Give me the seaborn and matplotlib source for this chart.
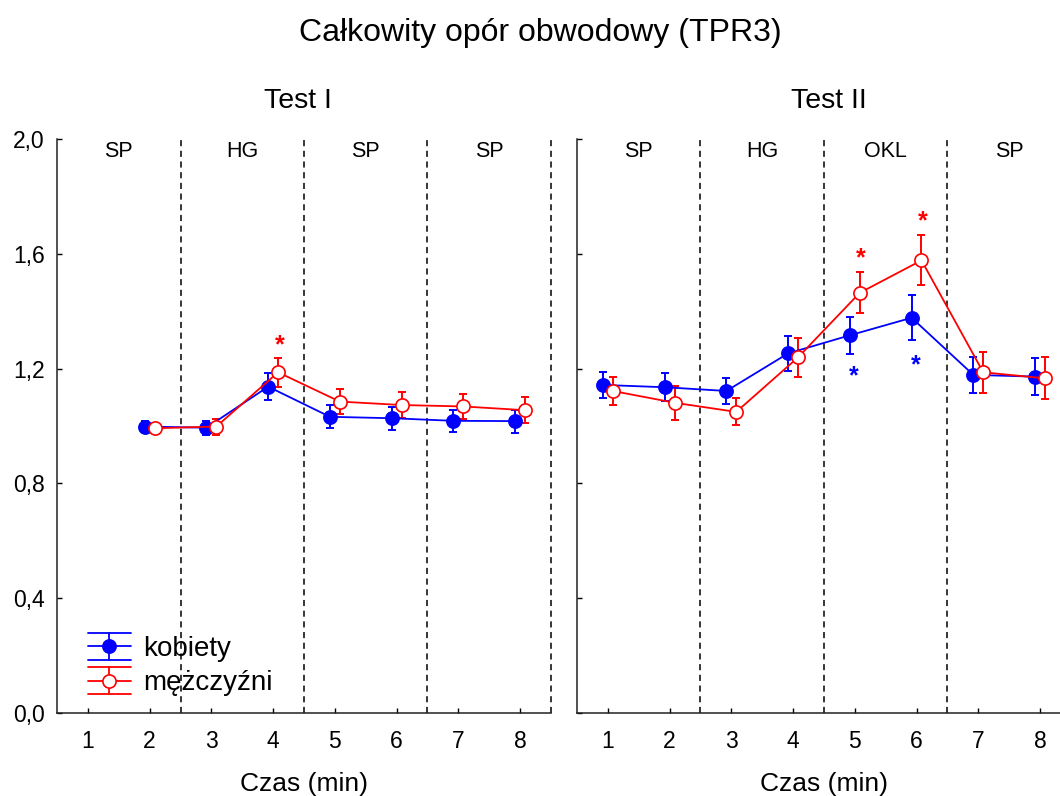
import numpy as np
import pandas as pd
import matplotlib
matplotlib.use("Agg")
import matplotlib.pyplot as plt
from matplotlib.legend_handler import HandlerBase
from matplotlib.lines import Line2D
import seaborn as sns

# ---- data -------------------------------------------------------------
time_t1 = [2, 3, 4, 5, 6, 7, 8]
kob_t1 = [0.998, 0.994, 1.137, 1.032, 1.027, 1.018, 1.017]
kob_t1_err = [0.020, 0.024, 0.046, 0.040, 0.040, 0.038, 0.040]
mez_t1 = [0.992, 0.998, 1.187, 1.085, 1.073, 1.068, 1.055]
mez_t1_err = [0.012, 0.028, 0.051, 0.045, 0.046, 0.042, 0.046]

time_t2 = [1, 2, 3, 4, 5, 6, 7, 8]
kob_t2 = [1.143, 1.135, 1.122, 1.253, 1.316, 1.377, 1.178, 1.172]
kob_t2_err = [0.044, 0.049, 0.044, 0.062, 0.064, 0.078, 0.063, 0.064]
mez_t2 = [1.122, 1.081, 1.049, 1.239, 1.464, 1.577, 1.187, 1.166]
mez_t2_err = [0.048, 0.060, 0.047, 0.069, 0.072, 0.087, 0.072, 0.073]

phases_t1 = ["SP", "HG", "SP", "SP"]
phases_t2 = ["SP", "HG", "OKL", "SP"]
phase_bounds_t1 = [2.5, 4.5, 6.5, 8.5]
phase_bounds_t2 = [2.5, 4.5, 6.5]

# significance marks: (time, height, series)
stars_t1 = [(4, 1.294, "m")]
stars_t2 = [(5, 1.596, "m"), (6, 1.724, "m"), (5, 1.184, "k"), (6, 1.224, "k")]

yticks = [0.0, 0.4, 0.8, 1.2, 1.6, 2.0]
xticks = [1, 2, 3, 4, 5, 6, 7, 8]

BLUE = "#0000ff"
RED = "#ff0000"
DODGE = 0.08

# ---- style ------------------------------------------------------------
sns.set_style("ticks")
plt.rcParams["font.family"] = ["Liberation Sans", "DejaVu Sans"]
plt.rcParams["axes.linewidth"] = 1.1
plt.rcParams["axes.edgecolor"] = "#222222"
plt.rcParams["text.color"] = "black"
plt.rcParams["axes.labelcolor"] = "black"

fig = plt.figure(figsize=(10.6, 7.96), dpi=100)
ax1 = fig.add_axes([0.0538, 0.1043, 0.466, 0.7211])
ax2 = fig.add_axes([0.5443, 0.1043, 0.466, 0.7211])


def draw_series(ax, t, vals, errs, color, filled, offset):
    x = np.array(t, dtype=float) + offset
    ax.errorbar(x, vals, yerr=errs, fmt="none", ecolor=color,
                elinewidth=1.4, capsize=3, capthick=1.4, zorder=2)
    df = pd.DataFrame({"x": x, "y": vals})
    sns.lineplot(data=df, x="x", y="y", ax=ax, color=color, lw=1.3,
                 marker="o", markersize=9.5,
                 markerfacecolor=color if filled else "white",
                 markeredgecolor=color, markeredgewidth=1.2,
                 errorbar=None, zorder=3)


def style_axes(ax, title, title_x, phases, bounds, labels):
    ax.set_xlim(0.5, 8.5)
    ax.set_ylim(0, 2.0)
    ax.set_xticks(xticks)
    ax.set_yticks(yticks)
    if labels:
        ax.set_yticklabels([f"{v:.1f}".replace(".", ",") for v in yticks])
    else:
        ax.set_yticklabels([])
    ax.tick_params(axis="both", direction="in", length=3.5, width=1.0,
                   labelsize=16.5, colors="black")
    ax.tick_params(axis="x", pad=12)
    ax.tick_params(axis="y", pad=9)
    sns.despine(ax=ax, top=True, right=True)
    ax.set_xlabel("Czas (min)", fontsize=19, labelpad=14)
    ax.set_ylabel("")
    for b in bounds:
        ax.axvline(b, color="black", lw=1.1, ls=(0, (4, 3)), zorder=1,
                   clip_on=False)
    for i, p in enumerate(phases):
        ax.text(1.5 + 2 * i, 1.955, p, ha="center", va="center", fontsize=15.5)
    ax.text(title_x, 2.133, title, ha="center", va="center", fontsize=20.5)


def draw_stars(ax, stars):
    for t, h, s in stars:
        col = RED if s == "m" else BLUE
        dx = 0.1 if s == "m" else -0.02
        ax.text(t + dx, h - 0.012, "*", color=col, ha="center", va="center",
                fontsize=18, fontweight="bold")


draw_series(ax1, time_t1, kob_t1, kob_t1_err, BLUE, True, -DODGE)
draw_series(ax1, time_t1, mez_t1, mez_t1_err, RED, False, DODGE)
draw_series(ax2, time_t2, kob_t2, kob_t2_err, BLUE, True, -DODGE)
draw_series(ax2, time_t2, mez_t2, mez_t2_err, RED, False, DODGE)

style_axes(ax1, "Test I", 4.4, phases_t1, phase_bounds_t1, True)
style_axes(ax2, "Test II", 4.58, phases_t2, phase_bounds_t2, False)
draw_stars(ax1, stars_t1)
draw_stars(ax2, stars_t2)


class ErrorBarHandle(HandlerBase):
    def create_artists(self, legend, orig_handle, xdescent, ydescent,
                       width, height, fontsize, trans):
        col = orig_handle.get_color()
        face = orig_handle.get_markerfacecolor()
        x0, x1 = -xdescent, -xdescent + width
        ym = -ydescent + height / 2
        off = 9.5
        arts = []
        for yy in (ym - off, ym, ym + off):
            arts.append(Line2D([x0, x1], [yy, yy], color=col, lw=1.3))
        xc = (x0 + x1) / 2
        arts.append(Line2D([xc, xc], [ym - off, ym + off], color=col, lw=1.3))
        arts.append(Line2D([xc], [ym], marker="o", markersize=9.5,
                           markerfacecolor=face, markeredgecolor=col,
                           markeredgewidth=1.2, ls="none"))
        for a in arts:
            a.set_transform(trans)
        return arts


h_k = Line2D([], [], color=BLUE, markerfacecolor=BLUE)
h_m = Line2D([], [], color=RED, markerfacecolor="white")
ax1.legend([h_k, h_m], ["kobiety", "mężczyźni"],
           handler_map={Line2D: ErrorBarHandle()},
           loc="center left", bbox_to_anchor=(0.062, 0.0815),
           frameon=False, fontsize=20, handlelength=1.55, handletextpad=0.45,
           labelspacing=0.3, borderpad=0, borderaxespad=0)

fig.text(0.51, 0.958, "Całkowity opór obwodowy (TPR3)", ha="center",
         va="center", fontsize=23)

fig.savefig("out.png", dpi=100)
